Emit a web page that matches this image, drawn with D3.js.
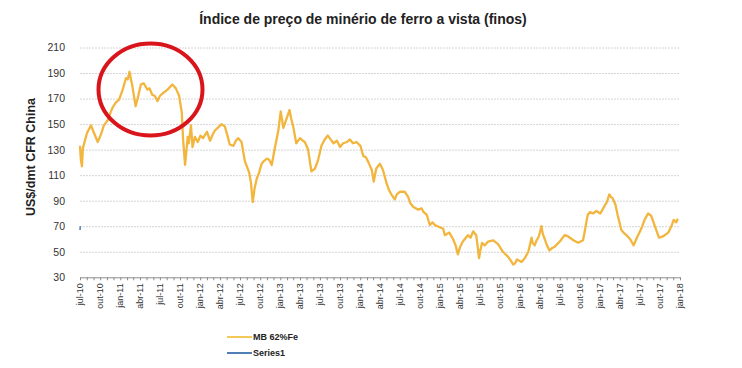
<!DOCTYPE html>
<html lang="pt">
<head>
<meta charset="UTF-8">
<title>Índice de preço de minério de ferro</title>
<script src="https://d3js.org/d3.v7.min.js"></script>
<style>
  body { margin: 0; background: #fff; }
  svg { display: block; font-family: "Liberation Sans", Arial, sans-serif; }
  .grid line { stroke: #d4d4d4; stroke-dasharray: 2,1; }
  .grid path { display: none; }
  .axis-y path, .axis-y line { display: none; }
  .axis-y text { fill: #333; font-size: 10.5px; }
  .axis-x path { stroke: #8c8c8c; }
  .axis-x line { stroke: #8c8c8c; }
  .title { font-weight: bold; font-size: 14px; fill: #222; }
  .ytitle { font-weight: bold; font-size: 12.5px; fill: #222; }
  .legend text { font-weight: bold; font-size: 9px; fill: #222; }
</style>
</head>
<body>
<svg id="chart"></svg>
<script>

var dates = [
  '2010-07-01','2010-07-05','2010-07-10','2010-07-14','2010-08-02','2010-08-20','2010-09-03','2010-09-20',
  '2010-10-05','2010-10-18','2010-11-05','2010-11-15','2010-11-27','2010-12-12','2010-12-26','2011-01-12',
  '2011-01-27','2011-02-04','2011-02-12','2011-02-26','2011-03-12','2011-03-24','2011-04-05','2011-04-18',
  '2011-05-05','2011-05-15','2011-05-27','2011-06-08','2011-06-20','2011-07-01','2011-07-13','2011-08-05',
  '2011-08-27','2011-09-12','2011-09-27','2011-10-09','2011-10-15','2011-10-24','2011-11-05','2011-11-10',
  '2011-11-20','2011-11-27','2011-12-08','2011-12-21','2012-01-02','2012-01-14','2012-02-01','2012-02-15',
  '2012-02-28','2012-03-08','2012-03-21','2012-04-08','2012-04-23','2012-05-06','2012-05-15','2012-06-01',
  '2012-06-12','2012-06-23','2012-07-08','2012-07-23','2012-08-12','2012-08-20','2012-08-28','2012-09-06',
  '2012-09-15','2012-09-26','2012-10-08','2012-10-18','2012-11-01','2012-11-11','2012-11-23','2012-12-08',
  '2012-12-23','2013-01-03','2013-01-15','2013-01-27','2013-02-12','2013-02-19','2013-03-01','2013-03-15',
  '2013-04-01','2013-04-14','2013-04-23','2013-05-08','2013-05-23','2013-06-08','2013-06-23','2013-07-08',
  '2013-07-23','2013-08-06','2013-09-01','2013-09-17','2013-10-01','2013-10-15','2013-11-02','2013-11-15',
  '2013-11-29','2013-12-15','2014-01-02','2014-01-15','2014-01-27','2014-02-08','2014-02-23','2014-03-04',
  '2014-03-15','2014-04-01','2014-04-15','2014-05-01','2014-05-11','2014-05-23','2014-06-08','2014-06-17',
  '2014-07-01','2014-07-23','2014-08-08','2014-08-18','2014-09-01','2014-09-23','2014-10-08','2014-10-18',
  '2014-11-01','2014-11-15','2014-11-27','2014-12-08','2015-01-02','2015-01-15','2015-01-23','2015-02-12',
  '2015-03-01','2015-03-13','2015-03-23','2015-04-03','2015-04-15','2015-05-08','2015-05-20','2015-06-01',
  '2015-06-15','2015-06-21','2015-06-28','2015-07-05','2015-07-12','2015-07-24','2015-08-08','2015-09-01',
  '2015-09-23','2015-10-15','2015-11-08','2015-11-20','2015-12-01','2015-12-10','2015-12-18','2016-01-08',
  '2016-01-23','2016-02-08','2016-02-15','2016-02-23','2016-02-28','2016-03-08','2016-03-17','2016-03-27',
  '2016-04-08','2016-04-14','2016-04-23','2016-05-03','2016-05-15','2016-05-27','2016-06-08','2016-07-01',
  '2016-07-23','2016-08-08','2016-09-01','2016-09-23','2016-10-15','2016-10-23','2016-11-01','2016-11-06',
  '2016-11-15','2016-12-01','2016-12-15','2017-01-02','2017-01-15','2017-02-01','2017-02-12','2017-02-19',
  '2017-02-27','2017-03-12','2017-03-23','2017-04-01','2017-04-08','2017-04-18','2017-05-01','2017-05-18',
  '2017-06-03','2017-06-18','2017-07-08','2017-07-23','2017-08-08','2017-08-23','2017-09-08','2017-09-27',
  '2017-10-15','2017-11-08','2017-11-23','2017-12-03','2017-12-15','2017-12-22'
];

// MB 62%Fe, US$/dmt
var mb62 = [
  133,122,117,131,143,149,143,136,
  142,149,153,158,163,167,169,177,
  186,185,191,179,164,172,181,182,
  177,178,173,172,168,172,174,177,
  181,178,172,159,138,118,140,135,
  149,132,140,136,141,139,144,137,
  142,145,147,150,148,140,134,133,
  137,139,136,121,112,104,89,100,
  107,112,119,121,123,122,118,132,
  145,160,147,153,161,155,148,135,
  139,137,136,130,113,115,122,133,
  138,141,135,137,132,135,136,138,
  135,136,133,125,124,120,114,105,
  115,119,114,104,99,95,91,95,
  97,97,93,88,85,83,84,81,
  79,71,73,71,69,68,63,65,
  60,55,48,54,58,63,61,66,
  63,55,45,52,57,55,58,59,
  56,50,46,43,40,41,44,42,
  45,50,55,61,57,55,59,62,
  70,64,60,55,51,53,54,58,
  63,62,59,57,59,66,75,79,
  81,80,82,80,84,89,95,93,
  92,87,78,72,67,65,63,60,
  55,61,68,75,80,78,70,61,
  62,65,70,75,73,76
];

var series1Dates = ['2010-07-01', '2010-07-02'];
var series1 = [67, 70];

var yTicks = [30, 50, 70, 90, 110, 130, 150, 170, 190, 210];
var monthsPt = ['jan', 'fev', 'mar', 'abr', 'mai', 'jun', 'jul', 'ago', 'set', 'out', 'nov', 'dez'];

var width = 742, height = 368;
var margin = {top: 47.5, right: 62, bottom: 90.7, left: 80};

var parse = d3.timeParse('%Y-%m-%d');
var mbData = dates.map(function(d, i) { return {date: parse(d), value: mb62[i]}; });
var s1Data = series1Dates.map(function(d, i) { return {date: parse(d), value: series1[i]}; });

var svg = d3.select('#chart')
  .attr('width', width)
  .attr('height', height);

var x = d3.scaleTime()
  .domain([parse('2010-07-01'), parse('2018-01-01')])
  .range([margin.left, width - margin.right]);

var y = d3.scaleLinear()
  .domain([30, 210])
  .range([height - margin.bottom, margin.top]);

// gridlines
svg.append('g')
  .attr('class', 'grid')
  .attr('transform', 'translate(' + margin.left + ',0)')
  .call(d3.axisLeft(y).tickValues(yTicks.slice(1)).tickSize(-(width - margin.right - margin.left)).tickFormat(''));

svg.append('g')
  .attr('class', 'axis-y')
  .attr('transform', 'translate(' + (margin.left - 12) + ',0)')
  .call(d3.axisLeft(y).tickValues(yTicks).tickSize(0));

// monthly minor ticks
var xAxisG = svg.append('g')
  .attr('class', 'axis-x')
  .attr('transform', 'translate(0,' + y(30) + ')');

xAxisG.call(d3.axisBottom(x).ticks(d3.timeMonth.every(1)).tickSize(3).tickSizeOuter(0).tickFormat(''));

var quarterTicks = x.ticks(d3.timeMonth.every(3));
xAxisG.selectAll('.qlabel')
  .data(quarterTicks)
  .enter()
  .append('text')
  .attr('class', 'qlabel')
  .attr('transform', function(d) { return 'translate(' + (x(d) + 3) + ',6) rotate(-90)'; })
  .attr('text-anchor', 'end')
  .style('fill', '#333')
  .style('font-size', '9px')
  .text(function(d) { return monthsPt[d.getMonth()] + '-' + d3.timeFormat('%y')(d); });

var line = d3.line()
  .x(function(d) { return x(d.date); })
  .y(function(d) { return y(d.value); });

svg.append('path')
  .datum(mbData)
  .attr('fill', 'none')
  .attr('stroke', '#F2B53E')
  .attr('stroke-width', 2.3)
  .attr('stroke-linejoin', 'round')
  .attr('d', line);

svg.append('path')
  .datum(s1Data)
  .attr('fill', 'none')
  .attr('stroke', '#4F7FB5')
  .attr('stroke-width', 1.5)
  .attr('d', line);

// titles
svg.append('text')
  .attr('class', 'title')
  .attr('x', 363)
  .attr('y', 24)
  .attr('text-anchor', 'middle')
  .text('Índice de preço de minério de ferro a vista (finos)');

svg.append('text')
  .attr('class', 'ytitle')
  .attr('transform', 'translate(35,' + 157 + ') rotate(-90)')
  .attr('text-anchor', 'middle')
  .text('US$/dmt CFR China');

// legend
var legendItems = [
  {name: 'MB 62%Fe', color: '#F5C85A'},
  {name: 'Series1', color: '#4F7FB5'}
];
var legend = svg.append('g')
  .attr('class', 'legend')
  .attr('transform', 'translate(227,337)');

var li = legend.selectAll('g')
  .data(legendItems)
  .enter()
  .append('g')
  .attr('transform', function(d, i) { return 'translate(0,' + (i * 16) + ')'; });

li.append('line')
  .attr('x1', 0).attr('x2', 25)
  .attr('stroke', function(d) { return d.color; })
  .attr('stroke-width', 2);

li.append('text')
  .attr('x', 26)
  .attr('dy', '0.35em')
  .text(function(d) { return d.name; });

// highlight ellipse
svg.append('ellipse')
  .attr('cx', 150.5)
  .attr('cy', 89.5)
  .attr('rx', 52)
  .attr('ry', 46)
  .attr('fill', 'none')
  .attr('stroke', '#D9151B')
  .attr('stroke-width', 4);

</script>
</body>
</html>
